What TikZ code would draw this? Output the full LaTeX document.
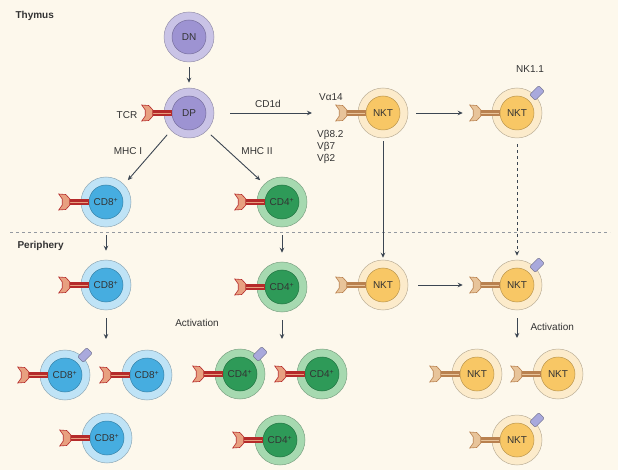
\documentclass[tikz,border=0pt]{standalone}
\usepackage{fontspec}
\setmainfont{Liberation Sans}
\usetikzlibrary{arrows.meta,calc}
\definecolor{bg}{HTML}{FDF8EC}
\definecolor{ln}{HTML}{3C4652}
\definecolor{tcr}{HTML}{B52A2A}
\definecolor{tcrl}{HTML}{E8A080}
\definecolor{nkr}{HTML}{B9814F}
\definecolor{nkrl}{HTML}{E8C49A}
\definecolor{dno}{HTML}{C9C3E6}\definecolor{dni}{HTML}{9D93D2}
\definecolor{c8o}{HTML}{BFE3F6}\definecolor{c8i}{HTML}{46ADE0}
\definecolor{c4o}{HTML}{A6D9B0}\definecolor{c4i}{HTML}{2E9A58}
\definecolor{nko}{HTML}{FCEBCB}\definecolor{nki}{HTML}{F8C765}
\definecolor{nkc}{HTML}{A9A9DC}
\tikzset{
  x=1pt,y=-1pt,
  every node/.style={font=\fontsize{10}{11}\selectfont, text=black!80},
  outer/.style={circle,minimum size=50pt,inner sep=0pt,draw=#1!75!black,fill=#1,line width=0.5pt},
  inner/.style={circle,minimum size=34pt,inner sep=0pt,draw=#1!75!black,fill=#1,line width=0.5pt},
  arr/.style={draw=ln,line width=0.9pt,-{Stealth[length=5pt,width=4.5pt]}},
  nk/.style={rounded corners=1.5pt,fill=nkc,draw=nkc!60!black,minimum width=13pt,minimum height=8pt,inner sep=0pt,rotate=45}
}
% receptor: #1 cell name, #2 dark, #3 light
\newcommand\myrec[3]{%
  \begin{scope}[shift={(#1.west)}]
    \fill[#2] (-13,-3) rectangle (8,3);
    \draw[#3,line width=0.4pt] (-13,0) -- (7,0);
    \fill[#3,draw=#2,line width=0.6pt] (-11,-3.2) -- (-15,-7.5) -- (-22,-8) -- (-18.5,-3) -- (-18.5,3) -- (-22,8) -- (-15,7.5) -- (-11,3.2) -- cycle;
  \end{scope}}
\newcommand\mynk[1]{\node[nk] at ($(#1.center)+(20,-20)$) {};}
\newcommand\mycell[5]{% name, pos, outer, inner, text
  \node[outer=#3] (#1) at (#2) {};
  \node[inner=#4] (#1i) at (#1) {#5};}
\begin{document}
\begin{tikzpicture}
\fill[bg] (0,0) rectangle (618,470);
\useasboundingbox (0,0) rectangle (618,470);
\node[font=\bfseries\fontsize{10}{11}\selectfont,anchor=west] (thy) at (12,16) {Thymus};
\node[font=\bfseries\fontsize{10}{11}\selectfont,anchor=west] (per) at (14,246) {Periphery};
\coordinate (dl) at (10,232); \coordinate (dr) at (610,232);
\draw[ln!55,dashed,line width=0.5pt] (dl) -- (dr);
% thymus
\mycell{dn}{189,37}{dno}{dni}{DN}
\mycell{dp}{189,113}{dno}{dni}{DP}
\myrec{dp}{tcr}{tcrl}
\node (tcrl) at (127,115) {TCR};
\mycell{c8t}{106,202}{c8o}{c8i}{CD8\textsuperscript{+}}
\myrec{c8t}{tcr}{tcrl}
\mycell{c4t}{282,202}{c4o}{c4i}{CD4\textsuperscript{+}}
\myrec{c4t}{tcr}{tcrl}
\mycell{n1}{383,113}{nko}{nki}{NKT}
\myrec{n1}{nkr}{nkrl}
\mycell{n2}{517,113}{nko}{nki}{NKT}
\myrec{n2}{nkr}{nkrl}
\mynk{n2}
\node (nk11) at (530,69) {NK1.1};
\node (va) at (331,97) {Vα14};
\node[align=left,anchor=north west,font=\fontsize{10}{12}\selectfont,inner sep=0pt] (vb) at (317,130) {Vβ8.2\\Vβ7\\Vβ2};
\node (mhc1) at (128,151) {MHC I};
\node (mhc2) at (257,151) {MHC II};
\draw[arr] ($(dn.south)+(0,5)$) -- ($(dp.north)+(0,-5)$);
\coordinate (cda) at (230,113); \coordinate (cdb) at (312,113);
\draw[arr] (cda) -- (cdb);
\node (cd1d) at (268,104) {CD1d};
\draw[arr] ($(dp.225)+(-4,4)$) -- ($(c8t.45)+(4,-4)$);
\draw[arr] ($(dp.315)+(4,4)$) -- ($(c4t.135)+(-4,-4)$);
\draw[arr] ($(n1.east)+(8,0)$) -- ($(n2.west)+(-29,0)$);
% periphery
\mycell{c8p}{106,285}{c8o}{c8i}{CD8\textsuperscript{+}}
\myrec{c8p}{tcr}{tcrl}
\mycell{c4p}{282,287}{c4o}{c4i}{CD4\textsuperscript{+}}
\myrec{c4p}{tcr}{tcrl}
\mycell{n3}{383,285}{nko}{nki}{NKT}
\myrec{n3}{nkr}{nkrl}
\mycell{n4}{517,285}{nko}{nki}{NKT}
\myrec{n4}{nkr}{nkrl}
\mynk{n4}
\draw[arr] ($(c8t.south)+(0,8)$) -- ($(c8p.north)+(0,-9)$);
\draw[arr] ($(c4t.south)+(0,8)$) -- ($(c4p.north)+(0,-9)$);
\draw[arr] ($(n1.south)+(0,3)$) -- ($(n3.north)+(0,-2)$);
\draw[arr,dashed] ($(n2.south)+(0,6)$) -- ($(n4.north)+(0,-4)$);
\draw[arr] ($(n3.east)+(10,0)$) -- ($(n4.west)+(-29,0)$);
% activation
\mycell{c8a}{65,375}{c8o}{c8i}{CD8\textsuperscript{+}}
\myrec{c8a}{tcr}{tcrl}\mynk{c8a}
\mycell{c8b}{147,375}{c8o}{c8i}{CD8\textsuperscript{+}}
\myrec{c8b}{tcr}{tcrl}
\mycell{c8c}{107,438}{c8o}{c8i}{CD8\textsuperscript{+}}
\myrec{c8c}{tcr}{tcrl}
\mycell{c4a}{240,374}{c4o}{c4i}{CD4\textsuperscript{+}}
\myrec{c4a}{tcr}{tcrl}\mynk{c4a}
\mycell{c4b}{322,374}{c4o}{c4i}{CD4\textsuperscript{+}}
\myrec{c4b}{tcr}{tcrl}
\mycell{c4c}{280,440}{c4o}{c4i}{CD4\textsuperscript{+}}
\myrec{c4c}{tcr}{tcrl}
\node (act1) at (197,323) {Activation};
\coordinate (a8) at (106,339); \coordinate (a4) at (282,339);
\draw[arr] ($(c8p.south)+(0,8)$) -- (a8);
\draw[arr] ($(c4p.south)+(0,8)$) -- (a4);
\mycell{n5}{477,374}{nko}{nki}{NKT}
\myrec{n5}{nkr}{nkrl}
\mycell{n6}{558,374}{nko}{nki}{NKT}
\myrec{n6}{nkr}{nkrl}
\mycell{n7}{517,440}{nko}{nki}{NKT}
\myrec{n7}{nkr}{nkrl}\mynk{n7}
\coordinate (an) at (517,338);
\draw[arr] ($(n4.south)+(0,8)$) -- (an);
\node[anchor=west] (act2) at (527,327) {Activation};
\end{tikzpicture}
\end{document}
